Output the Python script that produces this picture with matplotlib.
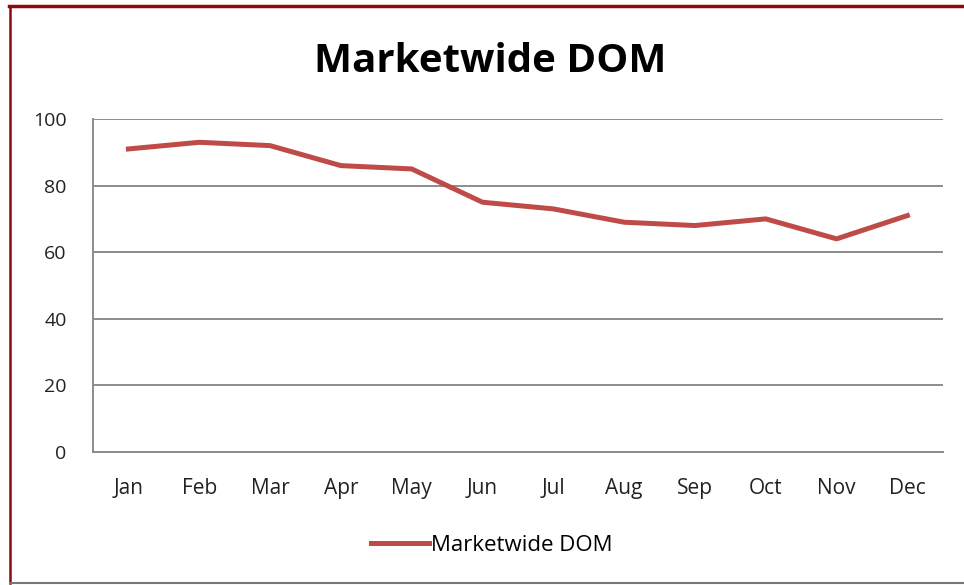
import matplotlib.pyplot as plt
from matplotlib.lines import Line2D

months = ['Jan', 'Feb', 'Mar', 'Apr', 'May', 'Jun', 'Jul', 'Aug', 'Sep', 'Oct', 'Nov', 'Dec']
dom = [91, 93, 92, 86, 85, 75, 73, 69, 68, 70, 64, 71]
y_ticks = [0, 20, 40, 60, 80, 100]

LINE_RED = '#be4b48'
GRID_GRAY = '#8c8c8c'

plt.rcParams['font.family'] = ['Open Sans', 'DejaVu Sans']

fig = plt.figure(figsize=(9.64, 5.85), dpi=100)
ax = fig.add_axes([0.0965, 0.2274, 0.8815, 0.5692])

x = list(range(len(months)))
ax.plot(x, dom, color=LINE_RED, linewidth=3.6, solid_joinstyle='round',
        label='Marketwide DOM')

ax.set_xlim(-0.5, len(months) - 0.5)
ax.set_ylim(0, 100)
ax.set_yticks(y_ticks)
ax.set_xticks(x)
ax.set_xticklabels(months)
ax.tick_params(axis='both', length=0, colors='#222222')
ax.tick_params(axis='y', pad=19, labelsize=14)
ax.tick_params(axis='x', pad=19, labelsize=15)

ax.grid(axis='y', color=GRID_GRAY, linewidth=1.4)
ax.set_axisbelow(True)
for side in ['top', 'right']:
    ax.spines[side].set_visible(False)
ax.spines['left'].set_color(GRID_GRAY)
ax.spines['bottom'].set_color(GRID_GRAY)
ax.spines['left'].set_linewidth(1.4)
ax.spines['bottom'].set_linewidth(1.4)

fig.text(0.508, 0.895, 'Marketwide DOM', ha='center', va='center',
         fontsize=29, fontweight='bold')

fig.legend(loc='center', bbox_to_anchor=(0.51, 0.068), frameon=False,
           fontsize=16, handlelength=2.6, handletextpad=0.1)

# outer chart frame
fig.add_artist(Line2D([0.009, 1.0], [0.990, 0.990], color='#8b0a0a', linewidth=2.5))
fig.add_artist(Line2D([0.010, 0.010], [0.003, 0.990], color='#8b0a0a', linewidth=1.8))
fig.add_artist(Line2D([0.010, 1.0], [0.004, 0.004], color='#777777', linewidth=1.5))

fig.savefig('out.png', dpi=100)
